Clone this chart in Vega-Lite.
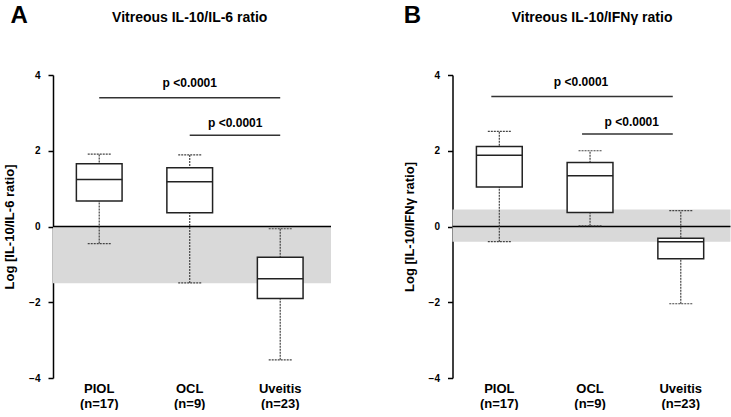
{
  "$schema": "https://vega.github.io/schema/vega-lite/v6.json",
  "background": "white",
  "padding": {"left": 3, "top": 4, "right": 0, "bottom": 0},
  "config": {
    "font": "Liberation Sans",
    "view": {"stroke": null},
    "concat": {"spacing": 70.5},
    "axisX": {"domain": false, "ticks": false, "grid": false, "labelAngle": 0, "labelExpr": "split(datum.value, ' ')", "labelFontSize": 13, "labelFontWeight": "bold", "labelColor": "#000000", "labelPadding": 4, "labelLineHeight": 15},
    "axisY": {"tickCount": 5, "grid": false, "domainColor": "#000000", "domainWidth": 1.5, "tickColor": "#000000", "tickSize": 5, "tickWidth": 1.5, "labelFontSize": 10, "labelFontWeight": "bold", "labelColor": "#000000", "labelPadding": 8, "titleFontSize": 13, "titleFontWeight": "bold", "titleColor": "#000000", "titlePadding": 12}
  },
  "datasets": {
    "boxA": [
      {"group": "PIOL (n=17)", "lo": -0.45, "q1": 0.67, "med": 1.24, "q3": 1.66, "hi": 1.91},
      {"group": "OCL (n=9)", "lo": -1.49, "q1": 0.36, "med": 1.18, "q3": 1.55, "hi": 1.89},
      {"group": "Uveitis (n=23)", "lo": -3.52, "q1": -1.9, "med": -1.38, "q3": -0.81, "hi": -0.06}
    ],
    "boxB": [
      {"group": "PIOL (n=17)", "lo": -0.40, "q1": 1.04, "med": 1.88, "q3": 2.11, "hi": 2.51},
      {"group": "OCL (n=9)", "lo": 0.02, "q1": 0.37, "med": 1.34, "q3": 1.69, "hi": 2.0},
      {"group": "Uveitis (n=23)", "lo": -2.04, "q1": -0.85, "med": -0.40, "q3": -0.31, "hi": 0.42}
    ],
    "bracketA": [
      {"from": "PIOL (n=17)", "to": "Uveitis (n=23)", "y": 3.40},
      {"from": "OCL (n=9)", "to": "Uveitis (n=23)", "y": 2.41}
    ],
    "bracketB": [
      {"from": "PIOL (n=17)", "to": "Uveitis (n=23)", "y": 3.43},
      {"from": "OCL (n=9)", "to": "Uveitis (n=23)", "y": 2.44}
    ]
  },
  "hconcat": [
    {
      "width": 278,
      "height": 303,
      "layer": [
        {
          "data": {"values": [{"lo": -1.5, "hi": 0}]},
          "mark": {"type": "rect", "color": "#d9d9d9"},
          "encoding": {
            "y": {"field": "lo", "type": "quantitative", "title": "Log [IL-10/IL-6 ratio]", "scale": {"domain": [-4, 4], "nice": false, "zero": false}},
            "y2": {"field": "hi"}
          }
        },
        {
          "data": {"values": [{"zero": 0}]},
          "mark": {"type": "rule", "color": "#000000", "strokeWidth": 1.5},
          "encoding": {"y": {"field": "zero", "type": "quantitative", "title": "Log [IL-10/IL-6 ratio]"}}
        },
        {
          "data": {"name": "boxA"},
          "mark": {"type": "rule", "color": "#444444", "strokeWidth": 1.2, "strokeDash": [2, 1]},
          "encoding": {
            "x": {"field": "group", "type": "nominal", "title": null, "scale": {"domain": ["PIOL (n=17)", "OCL (n=9)", "Uveitis (n=23)"], "paddingInner": 0, "paddingOuter": 0.036, "align": 0.15}},
            "y": {"field": "lo", "type": "quantitative", "title": "Log [IL-10/IL-6 ratio]"},
            "y2": {"field": "hi"}
          }
        },
        {
          "data": {"name": "boxA"},
          "mark": {"type": "rule", "color": "#444444", "strokeWidth": 1.2, "strokeDash": [2, 1], "xOffset": -11.5, "x2Offset": 11.5},
          "encoding": {
            "x": {"field": "group", "type": "nominal", "title": null},
            "x2": {"field": "group"},
            "y": {"field": "lo", "type": "quantitative", "title": "Log [IL-10/IL-6 ratio]"}
          }
        },
        {
          "data": {"name": "boxA"},
          "mark": {"type": "rule", "color": "#444444", "strokeWidth": 1.2, "strokeDash": [2, 1], "xOffset": -11.5, "x2Offset": 11.5},
          "encoding": {
            "x": {"field": "group", "type": "nominal", "title": null},
            "x2": {"field": "group"},
            "y": {"field": "hi", "type": "quantitative", "title": "Log [IL-10/IL-6 ratio]"}
          }
        },
        {
          "data": {"name": "boxA"},
          "mark": {"type": "bar", "fill": "white", "stroke": "#222222", "strokeWidth": 1.5, "width": {"band": 0.505}},
          "encoding": {
            "x": {"field": "group", "type": "nominal", "title": null},
            "y": {"field": "q1", "type": "quantitative", "title": "Log [IL-10/IL-6 ratio]"},
            "y2": {"field": "q3"}
          }
        },
        {
          "data": {"name": "boxA"},
          "mark": {"type": "rule", "color": "#222222", "strokeWidth": 1.5, "xOffset": -23, "x2Offset": 23},
          "encoding": {
            "x": {"field": "group", "type": "nominal", "title": null},
            "x2": {"field": "group"},
            "y": {"field": "med", "type": "quantitative", "title": "Log [IL-10/IL-6 ratio]"}
          }
        },
        {
          "data": {"name": "bracketA"},
          "mark": {"type": "rule", "color": "#333333", "strokeWidth": 1.5},
          "encoding": {
            "x": {"field": "from", "type": "nominal", "title": null},
            "x2": {"field": "to"},
            "y": {"field": "y", "type": "quantitative", "title": "Log [IL-10/IL-6 ratio]"}
          }
        },
        {
          "data": {"values": [{"g": "OCL (n=9)", "y": 3.79, "t": "p <0.0001"}]},
          "mark": {"type": "text", "fontSize": 12, "fontWeight": "bold", "baseline": "middle", "color": "#000000"},
          "encoding": {
            "x": {"field": "g", "type": "nominal", "title": null},
            "y": {"field": "y", "type": "quantitative", "title": "Log [IL-10/IL-6 ratio]"},
            "text": {"field": "t"}
          }
        },
        {
          "data": {"values": [{"g": "Uveitis (n=23)", "y": 2.73, "t": "p <0.0001"}]},
          "mark": {"type": "text", "fontSize": 12, "fontWeight": "bold", "baseline": "middle", "color": "#000000", "dx": -45},
          "encoding": {
            "x": {"field": "g", "type": "nominal", "title": null},
            "y": {"field": "y", "type": "quantitative", "title": "Log [IL-10/IL-6 ratio]"},
            "text": {"field": "t"}
          }
        },
        {
          "data": {"values": [{"g": "OCL (n=9)", "y": 5.51, "t": "Vitreous IL-10/IL-6 ratio"}]},
          "mark": {"type": "text", "fontSize": 14, "fontWeight": "bold", "baseline": "middle", "color": "#000000"},
          "encoding": {
            "x": {"field": "g", "type": "nominal", "title": null},
            "y": {"field": "y", "type": "quantitative", "title": "Log [IL-10/IL-6 ratio]"},
            "text": {"field": "t"}
          }
        },
        {
          "data": {"values": [{"g": "PIOL (n=17)", "y": 5.55, "t": "A"}]},
          "mark": {"type": "text", "fontSize": 24, "fontWeight": "bold", "baseline": "middle", "color": "#000000", "dx": -80},
          "encoding": {
            "x": {"field": "g", "type": "nominal", "title": null},
            "y": {"field": "y", "type": "quantitative", "title": "Log [IL-10/IL-6 ratio]"},
            "text": {"field": "t"}
          }
        }
      ]
    },
    {
      "width": 278,
      "height": 303,
      "layer": [
        {
          "data": {"values": [{"lo": -0.4, "hi": 0.45}]},
          "mark": {"type": "rect", "color": "#d9d9d9"},
          "encoding": {
            "y": {"field": "lo", "type": "quantitative", "title": "Log [IL-10/IFNγ ratio]", "scale": {"domain": [-4, 4], "nice": false, "zero": false}},
            "y2": {"field": "hi"}
          }
        },
        {
          "data": {"values": [{"zero": 0}]},
          "mark": {"type": "rule", "color": "#000000", "strokeWidth": 1.5},
          "encoding": {"y": {"field": "zero", "type": "quantitative", "title": "Log [IL-10/IFNγ ratio]"}}
        },
        {
          "data": {"name": "boxB"},
          "mark": {"type": "rule", "color": "#444444", "strokeWidth": 1.2, "strokeDash": [2, 1]},
          "encoding": {
            "x": {"field": "group", "type": "nominal", "title": null, "scale": {"domain": ["PIOL (n=17)", "OCL (n=9)", "Uveitis (n=23)"], "paddingInner": 0, "paddingOuter": 0.032, "align": 0.25}},
            "y": {"field": "lo", "type": "quantitative", "title": "Log [IL-10/IFNγ ratio]"},
            "y2": {"field": "hi"}
          }
        },
        {
          "data": {"name": "boxB"},
          "mark": {"type": "rule", "color": "#444444", "strokeWidth": 1.2, "strokeDash": [2, 1], "xOffset": -11.5, "x2Offset": 11.5},
          "encoding": {
            "x": {"field": "group", "type": "nominal", "title": null},
            "x2": {"field": "group"},
            "y": {"field": "lo", "type": "quantitative", "title": "Log [IL-10/IFNγ ratio]"}
          }
        },
        {
          "data": {"name": "boxB"},
          "mark": {"type": "rule", "color": "#444444", "strokeWidth": 1.2, "strokeDash": [2, 1], "xOffset": -11.5, "x2Offset": 11.5},
          "encoding": {
            "x": {"field": "group", "type": "nominal", "title": null},
            "x2": {"field": "group"},
            "y": {"field": "hi", "type": "quantitative", "title": "Log [IL-10/IFNγ ratio]"}
          }
        },
        {
          "data": {"name": "boxB"},
          "mark": {"type": "bar", "fill": "white", "stroke": "#222222", "strokeWidth": 1.5, "width": {"band": 0.505}},
          "encoding": {
            "x": {"field": "group", "type": "nominal", "title": null},
            "y": {"field": "q1", "type": "quantitative", "title": "Log [IL-10/IFNγ ratio]"},
            "y2": {"field": "q3"}
          }
        },
        {
          "data": {"name": "boxB"},
          "mark": {"type": "rule", "color": "#222222", "strokeWidth": 1.5, "xOffset": -23, "x2Offset": 23},
          "encoding": {
            "x": {"field": "group", "type": "nominal", "title": null},
            "x2": {"field": "group"},
            "y": {"field": "med", "type": "quantitative", "title": "Log [IL-10/IFNγ ratio]"}
          }
        },
        {
          "data": {"name": "bracketB"},
          "mark": {"type": "rule", "color": "#333333", "strokeWidth": 1.5, "xOffset": -8, "x2Offset": -8},
          "encoding": {
            "x": {"field": "from", "type": "nominal", "title": null},
            "x2": {"field": "to"},
            "y": {"field": "y", "type": "quantitative", "title": "Log [IL-10/IFNγ ratio]"}
          }
        },
        {
          "data": {"values": [{"g": "OCL (n=9)", "y": 3.82, "t": "p <0.0001"}]},
          "mark": {"type": "text", "fontSize": 12, "fontWeight": "bold", "baseline": "middle", "color": "#000000", "dx": -9},
          "encoding": {
            "x": {"field": "g", "type": "nominal", "title": null},
            "y": {"field": "y", "type": "quantitative", "title": "Log [IL-10/IFNγ ratio]"},
            "text": {"field": "t"}
          }
        },
        {
          "data": {"values": [{"g": "Uveitis (n=23)", "y": 2.76, "t": "p <0.0001"}]},
          "mark": {"type": "text", "fontSize": 12, "fontWeight": "bold", "baseline": "middle", "color": "#000000", "dx": -49},
          "encoding": {
            "x": {"field": "g", "type": "nominal", "title": null},
            "y": {"field": "y", "type": "quantitative", "title": "Log [IL-10/IFNγ ratio]"},
            "text": {"field": "t"}
          }
        },
        {
          "data": {"values": [{"g": "OCL (n=9)", "y": 5.51, "t": "Vitreous IL-10/IFNγ ratio"}]},
          "mark": {"type": "text", "fontSize": 14, "fontWeight": "bold", "baseline": "middle", "color": "#000000", "dx": 2},
          "encoding": {
            "x": {"field": "g", "type": "nominal", "title": null},
            "y": {"field": "y", "type": "quantitative", "title": "Log [IL-10/IFNγ ratio]"},
            "text": {"field": "t"}
          }
        },
        {
          "data": {"values": [{"g": "PIOL (n=17)", "y": 5.55, "t": "B"}]},
          "mark": {"type": "text", "fontSize": 24, "fontWeight": "bold", "baseline": "middle", "color": "#000000", "dx": -87},
          "encoding": {
            "x": {"field": "g", "type": "nominal", "title": null},
            "y": {"field": "y", "type": "quantitative", "title": "Log [IL-10/IFNγ ratio]"},
            "text": {"field": "t"}
          }
        }
      ]
    }
  ]
}
